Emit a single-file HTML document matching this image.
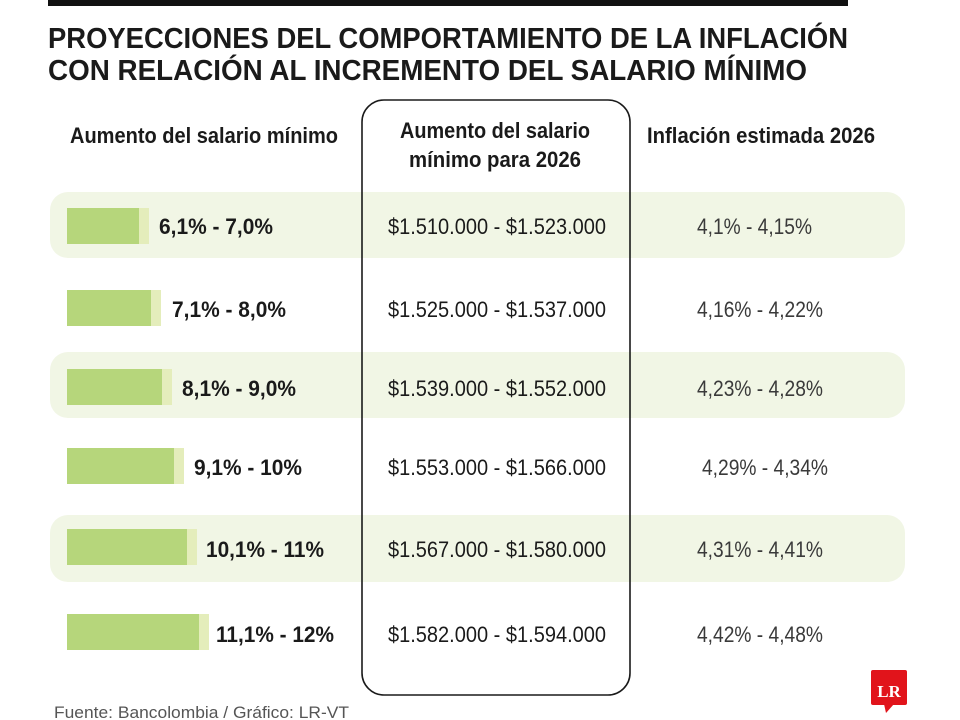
<!DOCTYPE html>
<html><head><meta charset="utf-8"><style>html,body{margin:0;padding:0;background:#fff}svg{display:block}</style></head><body>
<svg width="960" height="720" viewBox="0 0 960 720" xmlns="http://www.w3.org/2000/svg" font-family="Liberation Sans, sans-serif">
<rect x="0" y="0" width="960" height="720" fill="#fff"/>
<rect x="48" y="0" width="800" height="6" fill="#111"/>
<g font-weight="bold" font-size="29" fill="#1a1a1a">
<text x="48" y="48" textLength="800" lengthAdjust="spacingAndGlyphs">PROYECCIONES DEL COMPORTAMIENTO DE LA INFLACIÓN</text>
<text x="48" y="80" textLength="759" lengthAdjust="spacingAndGlyphs">CON RELACIÓN AL INCREMENTO DEL SALARIO MÍNIMO</text>
</g>
<g fill="#f1f6e5">
<rect x="50" y="192" width="855" height="66" rx="18"/>
<rect x="50" y="352" width="855" height="66" rx="18"/>
<rect x="50" y="515" width="855" height="67" rx="18"/>
</g>
<rect x="362" y="100" width="268" height="595" rx="22" fill="none" stroke="#1a1a1a" stroke-width="1.6"/>
<g font-weight="bold" font-size="22" fill="#1a1a1a">
<text x="70" y="143" textLength="268" lengthAdjust="spacingAndGlyphs">Aumento del salario mínimo</text>
<text x="400" y="138" textLength="190" lengthAdjust="spacingAndGlyphs">Aumento del salario</text>
<text x="409" y="167" textLength="172" lengthAdjust="spacingAndGlyphs">mínimo para 2026</text>
<text x="647" y="143" textLength="228" lengthAdjust="spacingAndGlyphs">Inflación estimada 2026</text>
</g>
<g>
<rect x="67" y="208" width="82" height="36" fill="#e4edbb"/><rect x="67" y="208" width="72" height="36" fill="#b6d67b"/>
<rect x="67" y="290" width="94" height="36" fill="#e4edbb"/><rect x="67" y="290" width="84" height="36" fill="#b6d67b"/>
<rect x="67" y="369" width="105" height="36" fill="#e4edbb"/><rect x="67" y="369" width="95" height="36" fill="#b6d67b"/>
<rect x="67" y="448" width="117" height="36" fill="#e4edbb"/><rect x="67" y="448" width="107" height="36" fill="#b6d67b"/>
<rect x="67" y="529" width="130" height="36" fill="#e4edbb"/><rect x="67" y="529" width="120" height="36" fill="#b6d67b"/>
<rect x="67" y="614" width="142" height="36" fill="#e4edbb"/><rect x="67" y="614" width="132" height="36" fill="#b6d67b"/>
</g>
<g font-weight="bold" font-size="22" fill="#1a1a1a">
<text x="159" y="234" textLength="114" lengthAdjust="spacingAndGlyphs">6,1% - 7,0%</text>
<text x="172" y="317" textLength="114" lengthAdjust="spacingAndGlyphs">7,1% - 8,0%</text>
<text x="182" y="396" textLength="114" lengthAdjust="spacingAndGlyphs">8,1% - 9,0%</text>
<text x="194" y="475" textLength="108" lengthAdjust="spacingAndGlyphs">9,1% - 10%</text>
<text x="206" y="557" textLength="118" lengthAdjust="spacingAndGlyphs">10,1% - 11%</text>
<text x="216" y="642" textLength="118" lengthAdjust="spacingAndGlyphs">11,1% - 12%</text>
</g>
<g font-size="22" fill="#1a1a1a">
<text x="388" y="234" textLength="218" lengthAdjust="spacingAndGlyphs">$1.510.000 - $1.523.000</text>
<text x="388" y="317" textLength="218" lengthAdjust="spacingAndGlyphs">$1.525.000 - $1.537.000</text>
<text x="388" y="396" textLength="218" lengthAdjust="spacingAndGlyphs">$1.539.000 - $1.552.000</text>
<text x="388" y="475" textLength="218" lengthAdjust="spacingAndGlyphs">$1.553.000 - $1.566.000</text>
<text x="388" y="557" textLength="218" lengthAdjust="spacingAndGlyphs">$1.567.000 - $1.580.000</text>
<text x="388" y="642" textLength="218" lengthAdjust="spacingAndGlyphs">$1.582.000 - $1.594.000</text>
</g>
<g font-size="22" fill="#3a3a3a">
<text x="697" y="234" textLength="115" lengthAdjust="spacingAndGlyphs">4,1% - 4,15%</text>
<text x="697" y="317" textLength="126" lengthAdjust="spacingAndGlyphs">4,16% - 4,22%</text>
<text x="697" y="396" textLength="126" lengthAdjust="spacingAndGlyphs">4,23% - 4,28%</text>
<text x="702" y="475" textLength="126" lengthAdjust="spacingAndGlyphs">4,29% - 4,34%</text>
<text x="697" y="557" textLength="126" lengthAdjust="spacingAndGlyphs">4,31% - 4,41%</text>
<text x="697" y="642" textLength="126" lengthAdjust="spacingAndGlyphs">4,42% - 4,48%</text>
</g>
<text x="54" y="718" font-size="17" fill="#555" textLength="295" lengthAdjust="spacingAndGlyphs">Fuente: Bancolombia / Gráfico: LR-VT</text>
<rect x="871" y="670" width="36" height="35" rx="2" fill="#e1141b"/>
<polygon points="884,704 894,704 886,713" fill="#e1141b"/>
<text x="889" y="697" font-family="Liberation Serif, serif" font-weight="bold" font-size="17" fill="#fff" text-anchor="middle">LR</text>
</svg>
</body></html>
